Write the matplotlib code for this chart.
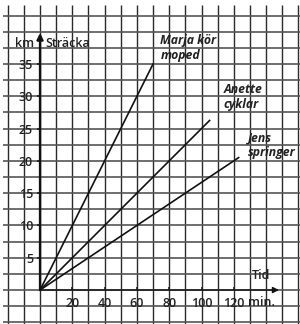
import numpy as np
import matplotlib
matplotlib.use("Agg")
import matplotlib.pyplot as plt

plt.rcParams['font.family'] = ['Open Sans', 'DejaVu Sans']

# Värden (tid i minuter, sträcka i km)
namn = ["Marja kör\nmoped", "Anette\ncyklar", "Jens\nspringer"]
slut_tid = [70, 105, 123]
slut_strecka = [35, 26.25, 20.5]

y_ticks = [5, 10, 15, 20, 25, 30, 35]
x_ticks = [20, 40, 60, 80, 100, 120]

# textplacering för etiketterna (data-koordinater)
etikett_pos = [(74.5, 37.5), (113.5, 29.9), (128.5, 22.4)]

fig = plt.figure(figsize=(3.0, 3.24), dpi=100)
ax = fig.add_axes([0, 0, 1, 1])
ax.set_xlim(-24.8, 161)
ax.set_ylim(-5.26, 44.9)

# rutnät
ax.vlines(np.arange(-20, 161, 10), -5.3, 44.1, color="#2a2a2a", lw=1.0, zorder=1)
ax.hlines(np.arange(-5, 43, 2.5), -22.9, 161, color="#555555", lw=1.2, zorder=1)

# axlar vid origo
ax.spines["left"].set_position(("data", 0))
ax.spines["bottom"].set_position(("data", 0))
for s in ax.spines.values():
    s.set_visible(False)

ax.annotate("", xy=(0, 39.8), xytext=(0, 0),
            arrowprops=dict(arrowstyle="-|>", lw=1.7, color="#111111",
                            mutation_scale=9, shrinkA=0, shrinkB=0), zorder=4)
ax.annotate("", xy=(148, 0), xytext=(0, 0),
            arrowprops=dict(arrowstyle="-|>", lw=1.0, color="#111111",
                            mutation_scale=9, shrinkA=0, shrinkB=0), zorder=4)

ax.set_yticks(y_ticks)
ax.set_yticklabels([str(v) for v in y_ticks], fontweight="semibold", zorder=5)
ax.set_xticks(x_ticks)
ax.set_xticklabels([str(v) for v in x_ticks], fontweight="semibold", zorder=5)
ax.tick_params(axis="y", direction="out", length=2.5, width=1.2, pad=2.5,
               labelsize=9, colors="#222222")
ax.tick_params(axis="x", direction="in", length=2.5, width=1.2, pad=5.2,
               labelsize=9, colors="#222222")

ax.text(-9.6, 38.1, "km", fontsize=9, fontweight="semibold", ha="center",
        va="center", color="#222222")
ax.text(3.6, 38.1, "Sträcka", fontsize=9, fontweight="semibold", ha="left",
        va="center", color="#222222")
ax.text(136.8, 2.2, "Tid", fontsize=9, fontweight="semibold", ha="center",
        va="center", color="#222222")
ax.text(128.6, -1.9, "min.", fontsize=9, fontweight="semibold", ha="left",
        va="center", color="#222222")

# linjerna
for t, s, n, (tx, ty) in zip(slut_tid, slut_strecka, namn, etikett_pos):
    ax.plot([0, t], [0, s], color="#111111", lw=1.2, zorder=3)
    ax.text(tx, ty, n, fontsize=8.8, fontweight="bold", fontstyle="italic",
            ha="left", va="center", linespacing=1.15, color="#222222", zorder=5)

fig.savefig("out.png", dpi=100)
